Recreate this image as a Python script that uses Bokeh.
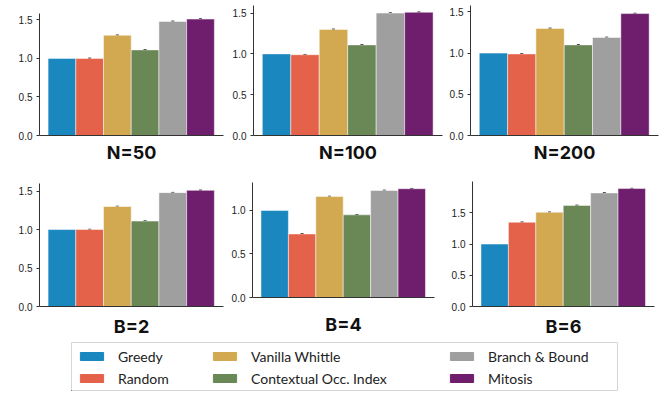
from bokeh.plotting import figure
from bokeh.layouts import column, row
from bokeh.models import (Range1d, FixedTicker, Legend, LegendItem, Whisker,
                          ColumnDataSource, TeeHead, PrintfTickFormatter)
from bokeh.embed import file_html
from bokeh.resources import INLINE

# ---------------- data ----------------
methods = ["Greedy", "Random", "Vanilla Whittle", "Contextual Occ. Index",
           "Branch & Bound", "Mitosis"]
colors = ["#1a87be", "#e4624a", "#d2a851", "#6a8756", "#9f9f9f", "#6e1e6c"]
panel_titles = ["N=50", "N=100", "N=200", "B=2", "B=4", "B=6"]

vals_n50 = [1.00, 1.00, 1.30, 1.11, 1.48, 1.51]
vals_n100 = [1.00, 0.99, 1.30, 1.11, 1.50, 1.51]
vals_n200 = [1.00, 0.99, 1.30, 1.10, 1.19, 1.48]
vals_b2 = [1.00, 1.00, 1.30, 1.11, 1.48, 1.51]
vals_b4 = [1.00, 0.73, 1.16, 0.95, 1.23, 1.25]
vals_b6 = [1.00, 1.35, 1.51, 1.62, 1.82, 1.89]

err_n50 = [0.0, 0.003, 0.003, 0.003, 0.003, 0.003]
err_n100 = [0.0, 0.003, 0.003, 0.003, 0.003, 0.003]
err_n200 = [0.0, 0.003, 0.003, 0.003, 0.003, 0.003]
err_b2 = [0.0, 0.003, 0.003, 0.003, 0.003, 0.003]
err_b4 = [0.0, 0.004, 0.003, 0.003, 0.003, 0.003]
err_b6 = [0.0, 0.003, 0.003, 0.003, 0.004, 0.003]

y_ticks_a = [0.0, 0.5, 1.0, 1.5]
y_ticks_b = [0.0, 0.5, 1.0]

panel_values = [vals_n50, vals_n100, vals_n200, vals_b2, vals_b4, vals_b6]
panel_errors = [err_n50, err_n100, err_n200, err_b2, err_b4, err_b6]
panel_ticks = [y_ticks_a, y_ticks_a, y_ticks_a, y_ticks_a, y_ticks_b, y_ticks_a]

# ---------------- layout / style ----------------
# (y_max, spine_top, frame_w, frame_h, border_left, border_right, border_top, border_bottom, label_standoff)
geom = [
    (1.686, 1.584, 184, 130, 39, 2, 5, 32, 6),
    (1.593, 1.593, 189, 130, 28, 2, 5, 32, 6),
    (1.578, 1.578, 188, 130, 26, 6, 5, 32, 6),
    (1.625, 1.596, 184, 125, 39, 2, 14, 32, 9),
    (1.333, 1.325, 182, 116, 27, 12, 14, 41, 16),
    (2.003, 2.003, 182, 125, 26, 4, 14, 32, 9),
]

TICK_FONT = "Liberation Sans"
TITLE_FONT = "Inter"
LEGEND_FONT = "Lato"
AXIS_COLOR = "#333333"


def make_panel(i):
    vals = panel_values[i]
    errs = panel_errors[i]
    ymax, spine_top, fw, fh, bl, br, bt, bb, st = geom[i]
    xs = list(range(len(methods)))
    p = figure(title=None, frame_width=fw, frame_height=fh,
               min_border_left=bl, min_border_right=br,
               min_border_top=bt, min_border_bottom=bb,
               x_range=Range1d(-0.81, len(methods) - 0.5 + 0.33),
               y_range=Range1d(0, ymax),
               toolbar_location=None, output_backend="svg")
    src = ColumnDataSource(dict(x=xs, top=vals, color=colors, name=methods))
    p.vbar(x="x", top="top", width=1.0, fill_color="color",
           line_color="white", line_width=0.6, line_alpha=0.8, source=src)

    ex = [x for x, e in zip(xs, errs) if e > 0]
    eu = [v + e for v, e in zip(vals, errs) if e > 0]
    el = [v - e for v, e in zip(vals, errs) if e > 0]
    esrc = ColumnDataSource(dict(base=ex, upper=eu, lower=el))
    w = Whisker(base="base", upper="upper", lower="lower", source=esrc,
                line_color="black", line_width=1,
                upper_head=TeeHead(size=3, line_color="black", line_width=1),
                lower_head=TeeHead(size=3, line_color="black", line_width=1))
    p.add_layout(w)

    p.outline_line_color = None
    p.xgrid.visible = False
    p.ygrid.visible = False
    p.background_fill_color = "white"
    p.border_fill_color = "white"

    ya = p.yaxis[0]
    ya.ticker = FixedTicker(ticks=panel_ticks[i])
    ya.formatter = PrintfTickFormatter(format="%.1f")
    ya.bounds = (0, spine_top)
    ya.minor_tick_line_color = None
    ya.major_tick_in = 0
    ya.major_tick_out = 3
    ya.major_label_standoff = 4
    ya.axis_line_color = AXIS_COLOR
    ya.major_tick_line_color = AXIS_COLOR
    ya.major_label_text_font = TICK_FONT
    ya.major_label_text_font_size = "10px"
    ya.major_label_text_color = "#222222"

    xa = p.xaxis[0]
    xa.ticker = FixedTicker(ticks=[])
    xa.minor_tick_line_color = None
    xa.major_tick_out = 0
    xa.major_tick_in = 0
    xa.major_label_standoff = 0
    xa.major_label_text_font_size = "0px"
    xa.axis_line_color = AXIS_COLOR
    xa.axis_label = panel_titles[i]
    xa.axis_label_standoff = st
    xa.axis_label_text_font = TITLE_FONT
    xa.axis_label_text_font_style = "bold"
    xa.axis_label_text_font_size = "18px"
    xa.axis_label_text_color = "#111111"
    return p


panels = [make_panel(i) for i in range(6)]

# ---------------- legend ----------------
lg = figure(title=None, frame_width=546, frame_height=48,
            min_border_left=71, min_border_right=40,
            min_border_top=3, min_border_bottom=2,
            x_range=Range1d(0, 1), y_range=Range1d(0, 1),
            x_axis_location=None, y_axis_location=None,
            toolbar_location=None, output_backend="svg")
lg.xgrid.visible = False
lg.ygrid.visible = False
lg.outline_line_color = "#d6d6d6"
lg.outline_line_width = 1

# zero-height keys (drawn outside the visible range) that only feed the legend
renderers = []
for m, c in zip(methods, colors):
    r = lg.vbar(x=[-5], top=[0], bottom=[0], width=0.1, fill_color=c, line_color=c)
    renderers.append(r)

col_offsets = [6, 139, 376]
for k, xo in enumerate(col_offsets):
    items = [LegendItem(label=methods[2 * k + j], renderers=[renderers[2 * k + j]])
             for j in range(2)]
    leg = Legend(items=items, location=(xo, 2), orientation="vertical",
                 padding=0, margin=0, spacing=2,
                 glyph_width=29, glyph_height=10, label_height=20,
                 label_standoff=12,
                 label_text_font=LEGEND_FONT, label_text_font_size="14px",
                 label_text_color="#222222",
                 border_line_alpha=0, background_fill_alpha=0)
    lg.add_layout(leg, "center")

layout = column(row(panels[0], panels[1], panels[2]),
                row(panels[3], panels[4], panels[5]),
                lg)

open("out.html", "w").write(file_html(layout, INLINE))
